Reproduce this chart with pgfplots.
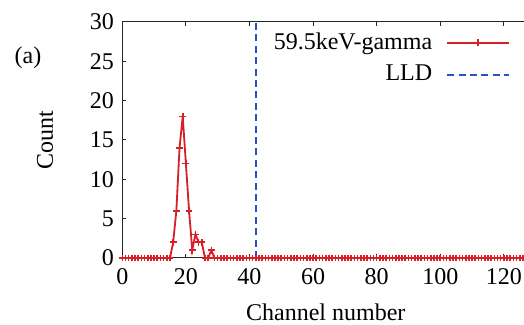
\documentclass[border=0pt]{standalone}
\usepackage{pgfplots}
\pgfplotsset{compat=1.18}
\usepackage{pgfplotstable}
\usepackage{fontspec}
\setmainfont{Liberation Serif}
\definecolor{myred}{RGB}{212,32,38}
\definecolor{myblue}{RGB}{40,80,200}
\pgfplotstableread{
x y
0 0
1 0
2 0
3 0
4 0
5 0
6 0
7 0
8 0
9 0
10 0
11 0
12 0
13 0
14 0
15 0
16 2
17 6
18 14
19 18
20 12
21 6
22 1
23 3
24 2
25 2
26 0
27 0
28 1
29 0
30 0
31 0
32 0
33 0
34 0
35 0
36 0
37 0
38 0
39 0
40 0
41 0
42 0
43 0
44 0
45 0
46 0
47 0
48 0
49 0
50 0
51 0
52 0
53 0
54 0
55 0
56 0
57 0
58 0
59 0
60 0
61 0
62 0
63 0
64 0
65 0
66 0
67 0
68 0
69 0
70 0
71 0
72 0
73 0
74 0
75 0
76 0
77 0
78 0
79 0
80 0
81 0
82 0
83 0
84 0
85 0
86 0
87 0
88 0
89 0
90 0
91 0
92 0
93 0
94 0
95 0
96 0
97 0
98 0
99 0
100 0
101 0
102 0
103 0
104 0
105 0
106 0
107 0
108 0
109 0
110 0
111 0
112 0
113 0
114 0
115 0
116 0
117 0
118 0
119 0
120 0
121 0
122 0
123 0
124 0
125 0
126 0
127 0
128 0
}\gammadata
\pgfplotstableread{
x y
42 0
42 30
}\llddata
\begin{document}
\fontsize{12}{14}\selectfont
\begin{tikzpicture}
\useasboundingbox (0,0) rectangle (262pt,162.5pt);
\begin{axis}[
  at={(61.15pt,33.5pt)}, anchor=south west,
  scale only axis, width=203.5pt, height=118pt,
  xmin=0, xmax=128, ymin=0, ymax=30,
  xtick={0,20,40,60,80,100,120},
  ytick={0,5,10,15,20,25,30},
  tick align=inside,
  xtick pos=both, ytick pos=left,
  xticklabel pos=bottom,
  major tick length=2pt,
  axis line style={black!85, line width=0.5pt},
  every tick/.style={black!85, line width=0.5pt},
  /pgf/number format/assume math mode=true,
  tick label style={font=\fontsize{12}{14}\selectfont},
  xticklabel style={yshift=-1pt},
  label style={font=\fontsize{12}{14}\selectfont},
  xlabel={Channel number},
  ylabel={Count},
  xlabel style={at={(axis description cs:0.5,-0.229)}, anchor=center},
  ylabel style={at={(axis description cs:-0.19,0.5)}, anchor=center},
  legend plot pos=right,
  legend cell align=right,
  legend image code/.code={\draw[mark repeat=2,mark phase=2,#1] plot coordinates {(0pt,0pt) (15.5pt,0pt) (31pt,0pt)};},
  legend style={draw=none, fill=none, at={(axis cs:124.0,29.7)}, anchor=north east,
    font=\fontsize{12}{14}\selectfont, row sep=2pt,
    /tikz/every odd column/.append style={column sep=5pt}},
]
\addplot[myred, line width=0.9pt, mark=+, mark size=1.7pt, mark options={line width=0.8pt}] table[x=x,y=y] {\gammadata};
\addlegendentry{59.5keV-gamma}
\addplot[myblue, line width=1pt, dash pattern=on 3.5pt off 2.2pt] table[x=x,y=y] {\llddata};
\addlegendentry{LLD}
\end{axis}
\node[font=\fontsize{12}{14}\selectfont] at (14pt,133.5pt) {(a)};
\end{tikzpicture}
\end{document}
